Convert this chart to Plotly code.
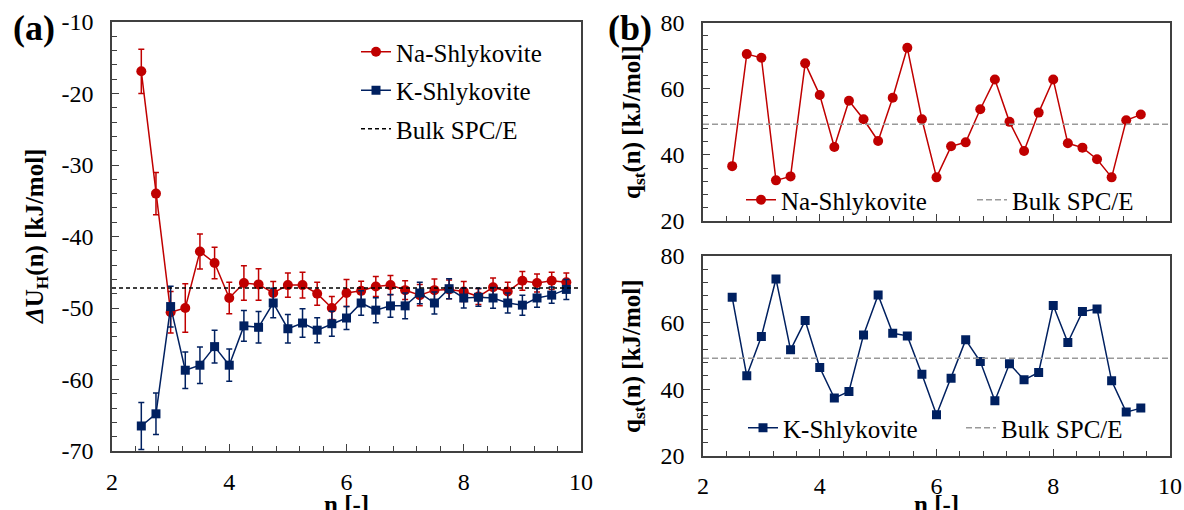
import plotly.graph_objects as go

# ---- data -------------------------------------------------------------
n_a = [2.5, 2.75, 3.0, 3.25, 3.5, 3.75, 4.0, 4.25, 4.5, 4.75, 5.0, 5.25, 5.5, 5.75,
       6.0, 6.25, 6.5, 6.75, 7.0, 7.25, 7.5, 7.75, 8.0, 8.25, 8.5, 8.75, 9.0, 9.25,
       9.5, 9.75]
du_na = [-16.9, -34.0, -50.6, -50.0, -42.1, -43.7, -48.6, -46.5, -46.7, -47.9,
         -46.8, -46.8, -48.0, -50.0, -47.9, -47.6, -47.0, -46.8, -47.5, -48.2,
         -47.5, -47.4, -47.7, -48.4, -47.1, -47.7, -46.2, -46.5, -46.2, -46.4]
du_na_err = [3.1, 2.95, 2.9, 3.4, 2.45, 2.2, 2.2, 2.4, 2.2, 1.6, 1.7, 1.8, 1.6, 1.6,
             1.9, 1.35, 1.4, 1.35, 1.3, 1.5, 1.55, 1.3, 1.4, 1.1, 1.3, 1.3, 1.3,
             1.25, 1.2, 1.3]
du_k = [-66.5, -64.8, -49.8, -58.7, -58.0, -55.4, -58.0, -52.5, -52.7, -49.3,
        -52.9, -52.1, -53.1, -52.2, -51.4, -49.3, -50.3, -49.7, -49.7, -47.9,
        -49.3, -47.3, -48.6, -48.5, -48.6, -49.3, -49.6, -48.6, -48.2, -47.4]
du_k_err = [3.3, 2.9, 2.85, 2.55, 2.55, 2.3, 2.25, 2.15, 2.2, 2.05, 2.0, 2.0, 1.75,
            1.75, 1.6, 1.7, 1.75, 1.6, 1.8, 1.5, 1.55, 1.4, 1.4, 1.25, 1.45, 1.4,
            1.4, 1.3, 1.15, 1.4]
du_bulk = -47.2

n_b = [2.5, 2.75, 3.0, 3.25, 3.5, 3.75, 4.0, 4.25, 4.5, 4.75, 5.0, 5.25, 5.5, 5.75,
       6.0, 6.25, 6.5, 6.75, 7.0, 7.25, 7.5, 7.75, 8.0, 8.25, 8.5, 8.75, 9.0, 9.25,
       9.5]
qst_na = [36.6, 70.5, 69.4, 32.3, 33.5, 67.7, 58.1, 42.4, 56.4, 50.8, 44.2, 57.3,
          72.4, 50.8, 33.2, 42.6, 43.8, 53.8, 62.8, 50.0, 41.2, 52.8, 62.8, 43.5,
          42.2, 38.7, 33.2, 50.5, 52.2]
qst_k = [67.6, 44.0, 55.8, 73.1, 51.8, 60.6, 46.5, 37.3, 39.3, 56.3, 68.3, 56.8,
         56.0, 44.5, 32.3, 43.3, 54.8, 48.3, 36.5, 47.6, 42.8, 45.0, 65.1, 54.0,
         63.3, 64.1, 42.5, 33.1, 34.3]
qst_bulk = 49.3

x_span = [2, 10]
x_ticks = [2, 4, 6, 8, 10]
x_ticktext = ["2", "4", "6", "8", "10"]
ya_ticks = [-10, -20, -30, -40, -50, -60, -70]
ya_ticktext = ["-10", "-20", "-30", "-40", "-50", "-60", "-70"]
yb_ticks = [20, 40, 60, 80]
yb_ticktext = ["20", "40", "60", "80"]

# ---- style ------------------------------------------------------------
W, H = 1184, 510
FONT = "Liberation Serif, Times New Roman, Tinos, serif"
RED = "#C00000"
BLUE = "#002060"
AX = "#404040"


def px(x):
    return x / W


def py(y):
    return 1 - y / H


fig = go.Figure()

# (a) hydration energy with error bars
fig.add_trace(go.Scatter(
    x=n_a, y=du_na, name="Na-Shlykovite", mode="lines+markers",
    line=dict(color=RED, width=1.5),
    marker=dict(symbol="circle", size=10, color=RED),
    error_y=dict(type="data", array=du_na_err, color=RED, thickness=1.5, width=3),
    xaxis="x", yaxis="y", legend="legend", legendgroup="a1"))
fig.add_trace(go.Scatter(
    x=n_a, y=du_k, name="K-Shlykovite", mode="lines+markers",
    line=dict(color=BLUE, width=1.5),
    marker=dict(symbol="square", size=9, color=BLUE),
    error_y=dict(type="data", array=du_k_err, color=BLUE, thickness=1.5, width=3),
    xaxis="x", yaxis="y", legend="legend", legendgroup="a2"))
fig.add_trace(go.Scatter(
    x=x_span, y=[du_bulk, du_bulk], name="Bulk SPC/E", mode="lines",
    line=dict(color="#000000", width=1.5, dash="4px,3px"),
    xaxis="x", yaxis="y", legend="legend", legendgroup="a3"))

# (b) isosteric heat, Na
fig.add_trace(go.Scatter(
    x=n_b, y=qst_na, name="Na-Shlykovite", mode="lines+markers",
    line=dict(color=RED, width=1.5),
    marker=dict(symbol="circle", size=10, color=RED),
    xaxis="x2", yaxis="y2", legend="legend2"))
fig.add_trace(go.Scatter(
    x=x_span, y=[qst_bulk, qst_bulk], name="Bulk SPC/E", mode="lines",
    line=dict(color="#999999", width=1.5, dash="6px,3px"),
    xaxis="x2", yaxis="y2", legend="legend2"))

# (b) isosteric heat, K
fig.add_trace(go.Scatter(
    x=n_b, y=qst_k, name="K-Shlykovite", mode="lines+markers",
    line=dict(color=BLUE, width=1.5),
    marker=dict(symbol="square", size=9, color=BLUE),
    xaxis="x3", yaxis="y3", legend="legend3"))
fig.add_trace(go.Scatter(
    x=x_span, y=[qst_bulk, qst_bulk], name="Bulk SPC/E", mode="lines",
    line=dict(color="#999999", width=1.5, dash="6px,3px"),
    xaxis="x3", yaxis="y3", legend="legend3"))

tickfont = dict(family=FONT, size=24, color="#000000")


def xaxis(domain, anchor, labels=True):
    return dict(domain=domain, anchor=anchor, range=x_span, showgrid=False,
                zeroline=False, showline=True, linecolor=AX, linewidth=1.5,
                mirror=True, ticks="inside", ticklen=7, tickwidth=1.2,
                tickcolor=AX, tickvals=x_ticks, ticktext=x_ticktext,
                showticklabels=labels, tickfont=tickfont, ticklabelstandoff=8,
                automargin=False,
                minor=dict(dtick=0.4, tick0=2, ticks="inside", ticklen=5,
                           tickwidth=1.2, tickcolor=AX))


def yaxis(domain, anchor, rng, vals, text, minor):
    return dict(domain=domain, anchor=anchor, range=rng, showgrid=False,
                zeroline=False, showline=True, linecolor=AX, linewidth=1.5,
                mirror=True, ticks="inside", ticklen=7, tickwidth=1.2,
                tickcolor=AX, tickvals=vals, ticktext=text, tickfont=tickfont,
                ticklabelstandoff=12, automargin=False,
                minor=dict(dtick=minor, ticks="inside", ticklen=5,
                           tickwidth=1.2, tickcolor=AX))


legend_font = dict(family=FONT, size=25, color="#000000")

fig.update_layout(
    width=W, height=H, autosize=False,
    margin=dict(l=0, r=0, t=0, b=0, pad=0, autoexpand=False),
    paper_bgcolor="white", plot_bgcolor="white",
    font=dict(family=FONT, size=24, color="#000000"),
    xaxis=xaxis([px(112), px(581)], "y"),
    yaxis=yaxis([py(451), py(22)], "x", [-70, -10], ya_ticks, ya_ticktext, 2),
    xaxis2=xaxis([px(703), px(1170)], "y2", labels=False),
    yaxis2=yaxis([py(221), py(22.7)], "x2", [20, 80], yb_ticks, yb_ticktext, 4),
    xaxis3=xaxis([px(703), px(1170)], "y3"),
    yaxis3=yaxis([py(455.7), py(256)], "x3", [20, 80], yb_ticks, yb_ticktext, 4),
    legend=dict(x=px(356), y=py(29), xanchor="left", yanchor="top",
                bgcolor="rgba(0,0,0,0)", font=legend_font,
                traceorder="grouped", tracegroupgap=3),
    legend2=dict(x=px(741), y=py(200), xanchor="left", yanchor="middle",
                 orientation="h", bgcolor="rgba(0,0,0,0)", font=legend_font,
                 entrywidth=186, entrywidthmode="pixels"),
    legend3=dict(x=px(743), y=py(428), xanchor="left", yanchor="middle",
                 orientation="h", bgcolor="rgba(0,0,0,0)", font=legend_font,
                 entrywidth=173, entrywidthmode="pixels"),
    showlegend=True,
)

title_font = dict(family=FONT, size=25, color="#000000")
annotations = [
    dict(text="<b><i>Δ</i>U<sub>H</sub>(n) [kJ/mol]</b>", x=px(36), y=py(237),
         textangle=-90, font=title_font),
    dict(text="<b>q<sub>st</sub>(n) [kJ/mol]</b>", x=px(633), y=py(122),
         textangle=-90, font=title_font),
    dict(text="<b>q<sub>st</sub>(n) [kJ/mol]</b>", x=px(633), y=py(356),
         textangle=-90, font=title_font),
    dict(text="<b>n [-]</b>", x=px(346), y=py(489), yanchor="top", font=title_font),
    dict(text="<b>n [-]</b>", x=px(936), y=py(489), yanchor="top", font=title_font),
    dict(text="<b>(a)</b>", x=px(34), y=py(28), font=dict(family=FONT, size=36)),
    dict(text="<b>(b)</b>", x=px(630), y=py(28), font=dict(family=FONT, size=36)),
]
for a in annotations:
    a.update(xref="paper", yref="paper", showarrow=False)
    a.setdefault("xanchor", "center")
    a.setdefault("yanchor", "middle")
fig.update_layout(annotations=annotations)

fig.write_html("out.html")
